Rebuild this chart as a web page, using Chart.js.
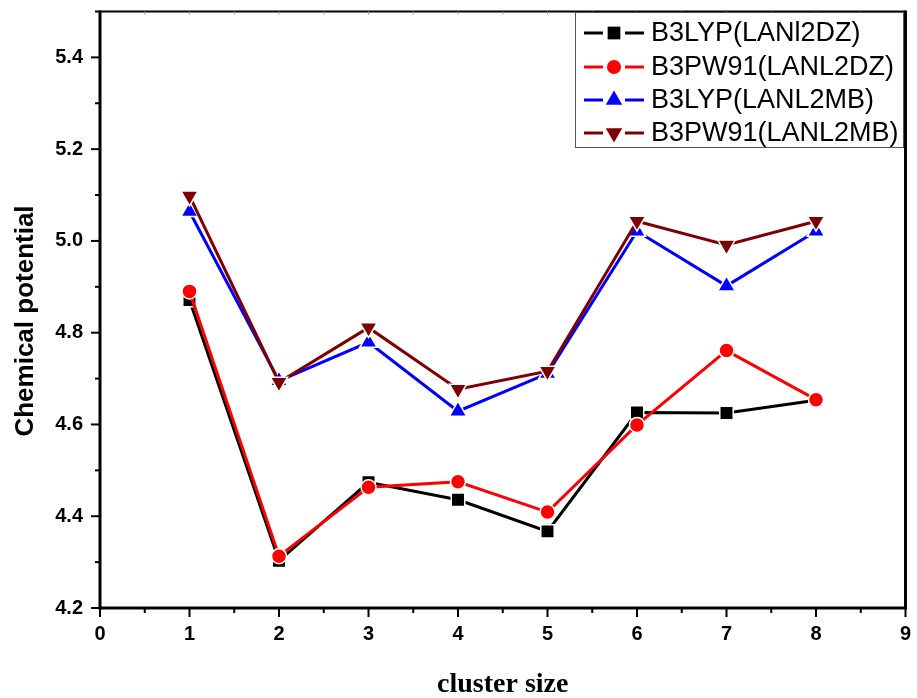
<!DOCTYPE html>
<html>
<head>
<meta charset="utf-8">
<script src="https://cdn.jsdelivr.net/npm/chart.js@4/dist/chart.umd.min.js"></script>
<style>
html,body{margin:0;padding:0;background:#fff;}
#wrap{width:917px;height:698px;position:relative;}
</style>
</head>
<body>
<div id="wrap"><canvas id="c" width="917" height="698"></canvas></div>
<script>
const clusterSizes = [1, 2, 3, 4, 5, 6, 7, 8];
const b3lypLanl2dz = [4.871, 4.303, 4.474, 4.436, 4.367, 4.626, 4.625, 4.653];
const b3pw91Lanl2dz = [4.890, 4.313, 4.463, 4.475, 4.409, 4.599, 4.761, 4.654];
const b3lypLanl2mb = [5.064, 4.695, 4.779, 4.629, 4.711, 5.021, 4.902, 5.021];
const b3pw91Lanl2mb = [5.098, 4.692, 4.811, 4.677, 4.716, 5.043, 4.991, 5.043];
const seriesNames = ['B3LYP(LANl2DZ)', 'B3PW91(LANL2DZ)', 'B3LYP(LANL2MB)', 'B3PW91(LANL2MB)'];
const xTicks = [0, 1, 2, 3, 4, 5, 6, 7, 8, 9];
const yTicks = [4.2, 4.4, 4.6, 4.8, 5.0, 5.2, 5.4];
const xTitle = 'cluster size';
const yTitle = 'Chemical potential';

function pts(vals){ return clusterSizes.map((x,i)=>({x:x, y:vals[i]})); }

const styles = [
  {color:'#000000', pointStyle:'rect', radius:9.5, rotation:0, order:3},
  {color:'#ff0000', pointStyle:'circle', radius:7.5, rotation:0, order:2},
  {color:'#0000ff', pointStyle:'triangle', radius:10, rotation:0, order:1},
  {color:'#7f0000', pointStyle:'triangle', radius:10, rotation:180, order:0}
];
const allVals = [b3lypLanl2dz, b3pw91Lanl2dz, b3lypLanl2mb, b3pw91Lanl2mb];

const datasets = allVals.map((v,i)=>({
  label: seriesNames[i],
  data: pts(v),
  borderColor: styles[i].color,
  backgroundColor: styles[i].color,
  borderWidth: 3,
  pointStyle: styles[i].pointStyle,
  pointRadius: styles[i].radius,
  pointRotation: styles[i].rotation,
  pointBackgroundColor: styles[i].color,
  pointBorderColor: '#ffffff',
  pointBorderWidth: 1.5,
  tension: 0,
  order: styles[i].order
}));

const framePlugin = {
  id: 'frame',
  afterDraw(chart){
    const ctx = chart.ctx;
    const a = chart.chartArea;
    const xs = chart.scales.x, ys = chart.scales.y;
    ctx.save();
    ctx.strokeStyle = '#000';
    ctx.lineCap = 'butt';
    ctx.lineWidth = 2;
    ctx.beginPath(); ctx.moveTo(a.left, a.top); ctx.lineTo(a.right, a.top); ctx.stroke();
    ctx.lineWidth = 3;
    ctx.beginPath(); ctx.moveTo(a.right, a.top-1); ctx.lineTo(a.right, a.bottom); ctx.stroke();
    ctx.beginPath(); ctx.moveTo(a.left, a.top-1); ctx.lineTo(a.left, a.bottom+1.5); ctx.stroke();
    ctx.beginPath(); ctx.moveTo(a.left-1.5, a.bottom); ctx.lineTo(a.right+1.5, a.bottom); ctx.stroke();
    ctx.lineWidth = 2;
    for (let k = 0; k <= 18; k++) {
      const px = xs.getPixelForValue(k * 0.5);
      const len = (k % 2 === 0) ? 9 : 5;
      ctx.beginPath(); ctx.moveTo(px, a.bottom); ctx.lineTo(px, a.bottom + len); ctx.stroke();
    }
    for (let k = 0; k <= 13; k++) {
      const py = ys.getPixelForValue(4.2 + k * 0.1);
      const len = (k % 2 === 0) ? 9 : 5;
      ctx.beginPath(); ctx.moveTo(a.left, py); ctx.lineTo(a.left - len, py); ctx.stroke();
    }
    ctx.strokeStyle = '#999';
    ctx.lineWidth = 1;
    for (let k = 1; k < 18; k++) {
      const px = xs.getPixelForValue(k * 0.5);
      ctx.beginPath(); ctx.moveTo(px, a.top); ctx.lineTo(px, a.top + 3); ctx.stroke();
    }
    // axis titles
    ctx.fillStyle = '#000';
    ctx.font = 'bold 26px "Liberation Sans", Arial, sans-serif';
    ctx.textAlign = 'center';
    ctx.textBaseline = 'middle';
    ctx.save();
    ctx.translate(26, 321);
    ctx.rotate(-Math.PI/2);
    ctx.fillText(yTitle, 0, 0);
    ctx.restore();
    ctx.font = 'bold 28px "Liberation Serif", "Times New Roman", serif';
    ctx.textBaseline = 'alphabetic';
    ctx.fillText(xTitle, (a.left + a.right) / 2, 692);
    // legend
    const lx = 575, ly = 12, lw = 328, lh = 135;
    ctx.fillStyle = '#fff';
    ctx.fillRect(lx, ly, lw, lh);
    ctx.strokeStyle = '#555';
    ctx.lineWidth = 1;
    ctx.strokeRect(lx + 0.5, ly + 0.5, lw, lh);
    const rows = [33, 67, 100, 133];
    ctx.font = '27px "Liberation Sans", Arial, sans-serif';
    ctx.textBaseline = 'middle';
    ctx.textAlign = 'left';
    for (let i = 0; i < 4; i++) {
      const y = rows[i];
      const st = styles[i];
      ctx.strokeStyle = st.color;
      ctx.lineWidth = 3;
      ctx.beginPath(); ctx.moveTo(584, y); ctx.lineTo(603, y); ctx.stroke();
      ctx.beginPath(); ctx.moveTo(625, y); ctx.lineTo(644, y); ctx.stroke();
      ctx.fillStyle = st.color;
      Chart.helpers.drawPoint(ctx, {pointStyle: st.pointStyle, radius: st.radius - 0.5, rotation: st.rotation, borderWidth: 0}, 614, y);
      ctx.fillStyle = '#000';
      ctx.fillText(seriesNames[i], 651, y + 1);
    }
    ctx.restore();
  }
};

new Chart(document.getElementById('c'), {
  type: 'line',
  data: { datasets },
  options: {
    responsive: false,
    animation: false,
    devicePixelRatio: 1,
    layout: { padding: { left: 0, right: 11, top: 8, bottom: 0 } },
    plugins: { legend: { display: false }, tooltip: { enabled: false } },
    scales: {
      x: {
        type: 'linear',
        min: 0, max: 9,
        afterFit(s){ s.height = 90; s.paddingLeft = 0; s.paddingRight = 0; },
        afterBuildTicks(s){ s.ticks = xTicks.map(v=>({value:v})); },
        grid: { display: true, drawOnChartArea: false, drawTicks: false, color: 'rgba(0,0,0,0)' },
        border: { display: false },
        ticks: { color: '#000', padding: 14, font: { family: '"Liberation Sans", Arial, sans-serif', size: 20, weight: 'bold' }, maxRotation: 0 },
        title: { display: false }
      },
      y: {
        type: 'linear',
        min: 4.2, max: 5.5,
        afterFit(s){ s.width = 100; s.paddingTop = 0; s.paddingBottom = 0; },
        afterBuildTicks(s){ s.ticks = yTicks.map(v=>({value:v})); },
        grid: { display: true, drawOnChartArea: false, drawTicks: false, color: 'rgba(0,0,0,0)' },
        border: { display: false },
        ticks: { color: '#000', padding: 17, font: { family: '"Liberation Sans", Arial, sans-serif', size: 20, weight: 'bold' }, callback: v => v.toFixed(1) },
        title: { display: false }
      }
    }
  },
  plugins: [framePlugin]
});
</script>
</body>
</html>
